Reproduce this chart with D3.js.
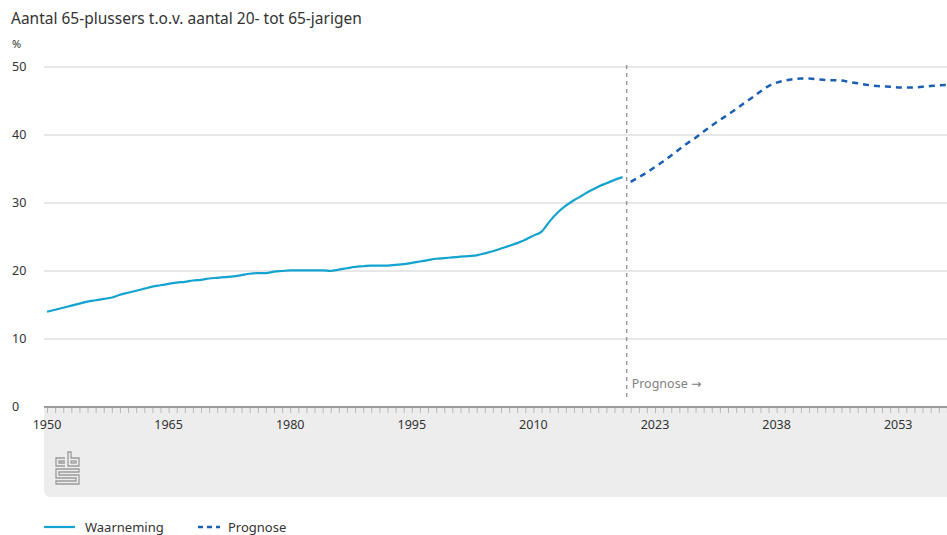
<!DOCTYPE html>
<html>
<head>
<meta charset="utf-8">
<script src="https://cdn.jsdelivr.net/npm/d3@7"></script>
<style>
  body { margin: 0; background: #fff; }
  svg text { font-family: "Noto Sans", "Open Sans", sans-serif; fill: #333; }
</style>
</head>
<body>
<script>
// data
const waarnemingJaren = d3.range(1950, 2022); // 72 jaren
const waarneming = [
  14.0, 14.3, 14.6, 14.9, 15.2, 15.5, 15.7, 15.9, 16.1, 16.5,
  16.8, 17.1, 17.4, 17.7, 17.9, 18.1, 18.3, 18.4, 18.6, 18.7,
  18.9, 19.0, 19.1, 19.2, 19.4, 19.6, 19.7, 19.7, 19.9, 20.0,
  20.1, 20.1, 20.1, 20.1, 20.1, 20.0, 20.2, 20.4, 20.6, 20.7,
  20.8, 20.8, 20.8, 20.9, 21.0, 21.2, 21.4, 21.6, 21.8, 21.9,
  22.0, 22.1, 22.2, 22.3, 22.6, 22.9, 23.3, 23.7, 24.1, 24.6,
  25.2, 25.8, 27.3, 28.6, 29.6, 30.4, 31.1, 31.8, 32.4, 32.9,
  33.4, 33.8
];
const prognoseJaren = d3.range(2020, 2060); // 40 jaren
const prognose = [
  33.1, 33.8, 34.5, 35.3, 36.1, 37.0, 37.9, 38.8, 39.6, 40.5,
  41.4, 42.2, 43.0, 43.8, 44.7, 45.5, 46.4, 47.2, 47.7, 48.0,
  48.2, 48.3, 48.3, 48.2, 48.1, 48.05, 48.0, 47.8, 47.6, 47.4,
  47.25, 47.15, 47.1, 47.0, 47.0, 47.0, 47.1, 47.2, 47.3, 47.35
];
const yTicks = [0, 10, 20, 30, 40, 50];
const xLabels = ["1950", "1965", "1980", "1995", "2010", "2023", "2038", "2053"];

// categories on the x axis: observation years then prognosis years
const categories = waarnemingJaren.map(j => "w" + j).concat(prognoseJaren.map(j => "p" + j));

let svg, x, y;
const width = 947, height = 535;
const plot = {left: 47, right: 947, top: 67, bottom: 407};

appendSvg("body");
setupScales();
appendGrid();
appendFooter();
appendXAxis();
appendYLabels();
appendDivider();
appendLines();
appendTitle();
appendLegend();

function appendSvg(domElement) {
  svg = d3.select(domElement).append("svg")
    .attr("width", width)
    .attr("height", height);
}

function setupScales() {
  x = d3.scalePoint()
    .domain(categories)
    .range([plot.left, plot.left + 111 * 8.107]);
  y = d3.scaleLinear()
    .domain([0, 50])
    .range([plot.bottom, plot.top]);
}

function appendGrid() {
  svg.append("g").selectAll("line")
    .data(yTicks.filter(d => d > 0))
    .enter().append("line")
    .attr("x1", 44).attr("x2", width)
    .attr("y1", d => y(d)).attr("y2", d => y(d))
    .attr("stroke", "#d0d0d0")
    .attr("stroke-width", 1);
}

function appendFooter() {
  // grey area under the axis with the cbs logo
  svg.append("path")
    .attr("d", `M44,${plot.bottom} H${width} V497 H51 Q44,497 44,490 Z`)
    .attr("fill", "#ededed");

  const logo = svg.append("g")
    .attr("transform", "translate(55,452)")
    .attr("fill", "none")
    .attr("stroke", "#9a9a9a")
    .attr("stroke-width", 1.3);
  // c
  logo.append("path").attr("d", "M10,6 H1 V14 H10");
  logo.append("path").attr("d", "M10,9 H4 V11 H10");
  // b
  logo.append("path").attr("d", "M13,0 V14 H24 V6 H16 V0 Z");
  logo.append("rect").attr("x", 16).attr("y", 9).attr("width", 5).attr("height", 2);
  // s
  logo.append("path").attr("d", "M1,17 H24 V20 H4 V23 H24 V32 H1 V29 H21 V26 H1 Z");
}

function appendXAxis() {
  const axis = d3.axisBottom(x)
    .tickSize(5)
    .tickFormat(d => "");
  const g = svg.append("g")
    .attr("transform", `translate(0,${plot.bottom + 1})`)
    .call(axis);
  g.select(".domain").remove();
  g.selectAll(".tick line").attr("stroke", "#b8b8b8").attr("stroke-width", 1);

  svg.append("line")
    .attr("x1", 44).attr("x2", width)
    .attr("y1", plot.bottom).attr("y2", plot.bottom)
    .attr("stroke", "#9b9b9b")
    .attr("stroke-width", 2);

  // labels every 15 categories
  svg.append("g").selectAll("text")
    .data(xLabels)
    .enter().append("text")
    .attr("x", (d, i) => x(categories[i * 15]))
    .attr("y", 429)
    .attr("text-anchor", "middle")
    .style("font-size", "12.5px")
    .text(d => d);
}

function appendYLabels() {
  svg.append("g").selectAll("text")
    .data(yTicks)
    .enter().append("text")
    .attr("x", 12)
    .attr("y", d => y(d) + 4)
    .style("font-size", "12.5px")
    .text(d => d);

  svg.append("text")
    .attr("x", 12).attr("y", 48)
    .style("font-size", "11px")
    .text("%");
}

function appendDivider() {
  const xd = (x("w2021") + x("p2020")) / 2;
  svg.append("line")
    .attr("x1", xd).attr("x2", xd)
    .attr("y1", 65).attr("y2", 400)
    .attr("stroke", "#999")
    .attr("stroke-width", 1.5)
    .attr("stroke-dasharray", "4,4");
  const t = svg.append("text")
    .attr("x", xd + 5).attr("y", 388)
    .style("font-size", "12.5px")
    .style("fill", "#808080");
  t.append("tspan").text("Prognose ");
  t.append("tspan").style("font-family", "DejaVu Sans").style("fill", "#808080").text("\u2192");
}

function appendLines() {
  const line = d3.line()
    .x(d => x(d.key))
    .y(d => y(d.value))
    .curve(d3.curveMonotoneX);

  const obs = waarnemingJaren.map((j, i) => ({key: "w" + j, value: waarneming[i]}));
  const prog = prognoseJaren.map((j, i) => ({key: "p" + j, value: prognose[i]}));

  svg.append("path")
    .datum(obs)
    .attr("d", line)
    .attr("fill", "none")
    .attr("stroke", "#13a3cf")
    .attr("stroke-width", 2.2);

  svg.append("path")
    .datum(prog)
    .attr("d", line)
    .attr("fill", "none")
    .attr("stroke", "#1a5fb4")
    .attr("stroke-width", 2.5)
    .attr("stroke-dasharray", "6,5");
}

function appendTitle() {
  svg.append("text")
    .attr("x", 11).attr("y", 24)
    .style("font-size", "15.5px")
    .text("Aantal 65-plussers t.o.v. aantal 20- tot 65-jarigen");
}

function appendLegend() {
  const lg = svg.append("g").attr("transform", "translate(44,527)");
  lg.append("line").attr("x1", 0).attr("x2", 31).attr("y1", 0).attr("y2", 0)
    .attr("stroke", "#13a3cf").attr("stroke-width", 2.2);
  lg.append("text").attr("x", 41).attr("y", 5).style("font-size", "13px").text("Waarneming");
  lg.append("line").attr("x1", 154).attr("x2", 176).attr("y1", 0).attr("y2", 0)
    .attr("stroke", "#1a5fb4").attr("stroke-width", 2.5).attr("stroke-dasharray", "5,4");
  lg.append("text").attr("x", 184).attr("y", 5).style("font-size", "13px").text("Prognose");
}
</script>
</body>
</html>
